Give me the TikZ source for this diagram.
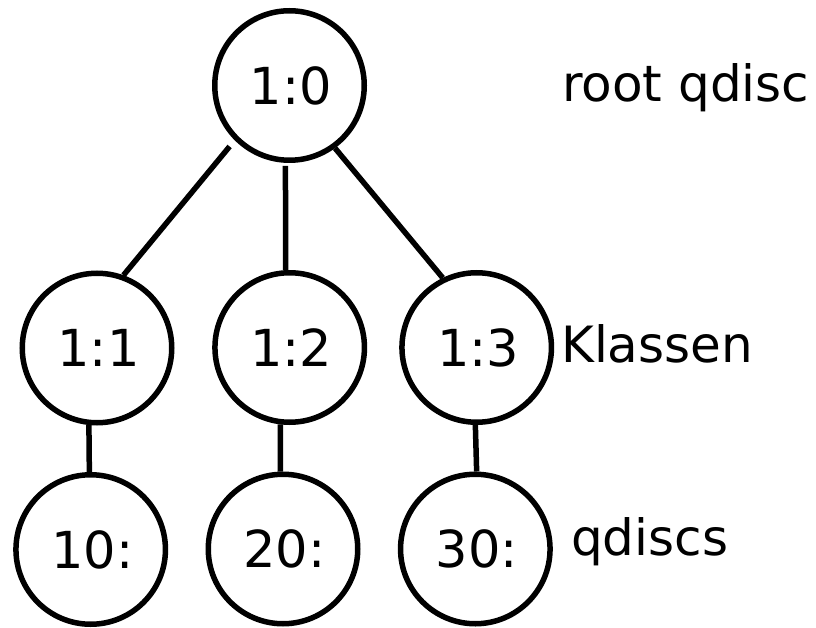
\documentclass[tikz,border=0pt]{standalone}
\usepackage{fontspec}
\setmainfont{DejaVu Sans}
\begin{document}
\begin{tikzpicture}[x=1pt,y=-1pt,
  qnode/.style={circle,draw,line width=5.5pt,minimum size=149.5pt,inner sep=0pt,
                font=\fontsize{51}{60}\selectfont},
  tag/.style={anchor=base west,inner sep=0pt,font=\fontsize{50}{60}\selectfont},
  link/.style={line width=5.5pt}]
  \useasboundingbox (0,0) rectangle (816,628);

  % root qdisc
  \node[qnode] (r) at (289.5,85.5) {\hspace{3pt}1:0};
  % classes
  \node[qnode] (a) at (97,348) {\hspace{3pt}1:1};
  \node[qnode] (b) at (289.7,347.5) {\hspace{3pt}1:2};
  \node[qnode] (c) at (476.7,347.5) {\hspace{3pt}1:3};
  % leaf qdiscs
  \node[qnode] (d) at (90.7,549.5) {\hspace{3pt}10:};
  \node[qnode] (e) at (283,549) {\hspace{3pt}20:};
  \node[qnode] (f) at (475.3,549) {\hspace{3pt}30:};

  % side labels
  \node[tag] (lr) at (562,102) {root qdisc};
  \node[tag] (lk) at (561,362.5) {Klassen};
  \node[tag] (lq) at (571,555) {qdiscs};

  % tree edges
  \draw[link,shorten <=8pt] (r.225) -- (a.70);
  \draw[link,shorten <=3pt] (r.267) -- (b.93);
  \draw[link] (r.306) -- (c.116);
  \draw[link] (a.264) -- (d.91);
  \draw[link] (b.263) -- (e.92);
  \draw[link] (c.269.5) -- (f.89.5);
\end{tikzpicture}
\end{document}
